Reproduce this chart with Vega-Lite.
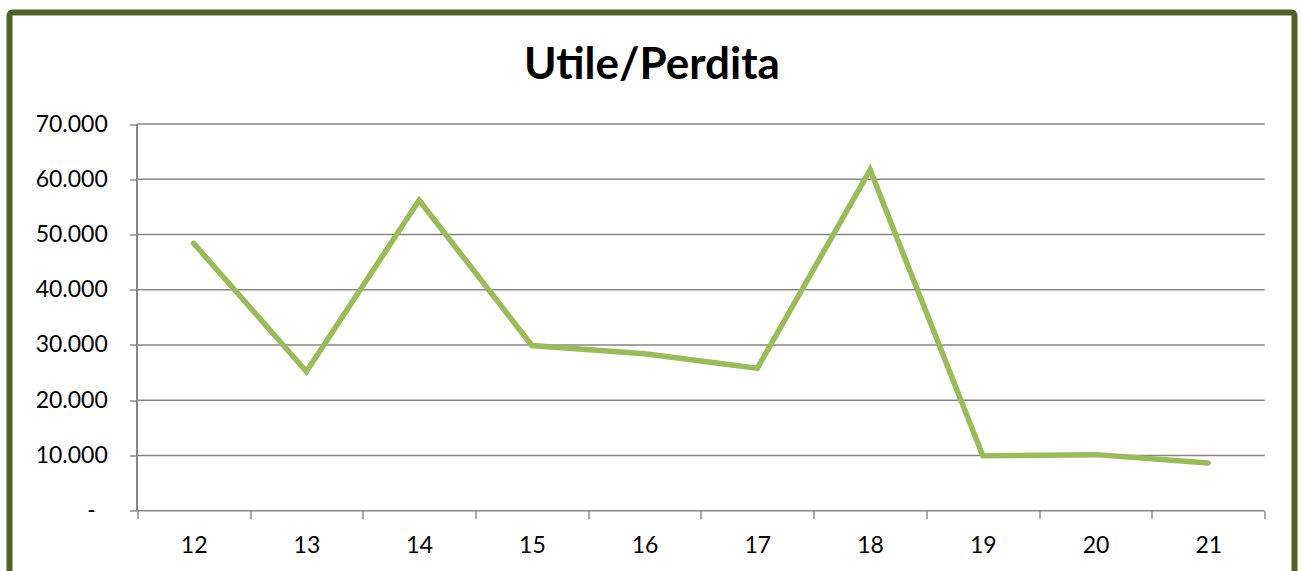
{
  "$schema": "https://vega.github.io/schema/vega-lite/v6.json",
  "width": 1285,
  "height": 561.5,
  "autosize": {"type": "none"},
  "padding": {"left": 9.5, "top": 12.5, "right": 7.5, "bottom": -3},
  "background": "white",
  "title": {
    "text": "Utile/Perdita",
    "font": "Lato",
    "fontSize": 44,
    "fontWeight": "bold",
    "color": "#000000",
    "anchor": "middle",
    "baseline": "alphabetic",
    "offset": -110
  },
  "config": {
    "view": {"stroke": "#4F6228", "strokeWidth": 6, "cornerRadius": 3, "fill": "white"},
    "font": "Lato"
  },
  "datasets": {
    "pl": [
      {"anno": 12, "valore": 48400},
      {"anno": 13, "valore": 25200},
      {"anno": 14, "valore": 56200},
      {"anno": 15, "valore": 29900},
      {"anno": 16, "valore": 28400},
      {"anno": 17, "valore": 25800},
      {"anno": 18, "valore": 61700},
      {"anno": 19, "valore": 9950},
      {"anno": 20, "valore": 10150},
      {"anno": 21, "valore": 8650}
    ],
    "grid": [
      {"g": 0}, {"g": 10000}, {"g": 20000}, {"g": 30000},
      {"g": 40000}, {"g": 50000}, {"g": 60000}, {"g": 70000}
    ]
  },
  "encoding": {
    "x": {
      "type": "quantitative",
      "scale": {"domain": [10.3664, 21.7644], "nice": false, "zero": false},
      "title": null,
      "axis": {
        "title": null,
        "values": [11.5, 12, 12.5, 13, 13.5, 14, 14.5, 15, 15.5, 16, 16.5, 17, 17.5, 18, 18.5, 19, 19.5, 20, 20.5, 21, 21.5],
        "labelExpr": "datum.value % 1 === 0 ? '' + datum.value : ''",
        "offset": -63.3,
        "domain": false,
        "grid": false,
        "tickColor": "#868686",
        "tickWidth": 1.4,
        "tickSize": 8,
        "tickOpacity": {"condition": {"test": "datum.value % 1 === 0", "value": 0}, "value": 1},
        "labelFont": "Lato",
        "labelFontSize": 23,
        "labelColor": "#000000",
        "labelPadding": 16,
        "labelFlush": false,
        "labelOverlap": false
      }
    },
    "y": {
      "type": "quantitative",
      "scale": {"domain": [-11458, 90184], "nice": false, "zero": false},
      "title": null,
      "axis": {
        "title": null,
        "values": [0, 10000, 20000, 30000, 40000, 50000, 60000, 70000],
        "labelExpr": "datum.value === 0 ? '-' : replace(format(datum.value, ','), ',', '.')",
        "offset": -127.8,
        "domain": false,
        "grid": false,
        "tickColor": "#868686",
        "tickWidth": 1.4,
        "tickSize": 8,
        "labelFont": "Lato",
        "labelFontSize": 23,
        "labelColor": "#000000",
        "labelPadding": {"condition": {"test": "datum.value === 0", "value": 34}, "value": 22},
        "labelFlush": false,
        "labelOverlap": false
      }
    }
  },
  "layer": [
    {
      "data": {"name": "grid"},
      "mark": {"type": "rule", "color": "#868686", "strokeWidth": 1.4},
      "encoding": {
        "y": {"field": "g", "type": "quantitative"},
        "x": {"datum": 11.5, "type": "quantitative"},
        "x2": {"datum": 21.5}
      }
    },
    {
      "data": {"name": "grid"},
      "mark": {"type": "rule", "color": "#868686", "strokeWidth": 1.4},
      "encoding": {
        "x": {"datum": 11.5, "type": "quantitative"},
        "y": {"datum": 0, "type": "quantitative"},
        "y2": {"datum": 70000}
      }
    },
    {
      "data": {"name": "pl"},
      "mark": {"type": "line", "color": "#9BBB59", "strokeWidth": 5.5, "strokeCap": "round"},
      "encoding": {
        "x": {"field": "anno", "type": "quantitative"},
        "y": {"field": "valore", "type": "quantitative"}
      }
    }
  ]
}
